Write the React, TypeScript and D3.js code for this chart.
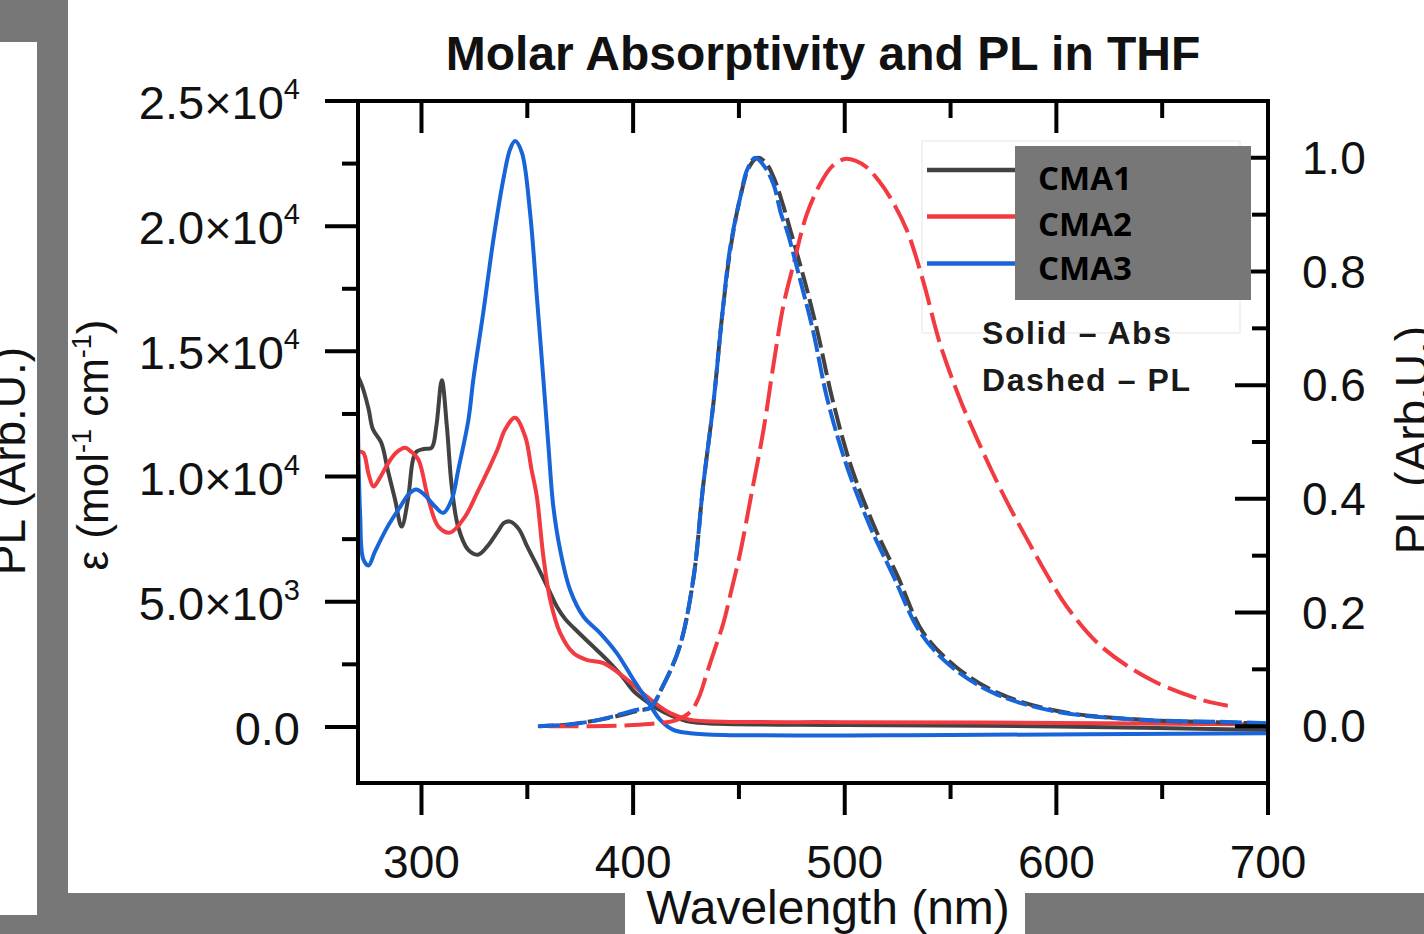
import React from 'react';
import * as d3 from 'd3';

// ---------- DATA ----------
// Absorption (molar absorptivity, left axis)
const cma1AbsWl = [270, 272, 275, 277, 281, 284, 287.5, 290.6, 293.6, 296, 297.7, 301, 304.8, 307, 309.6, 312, 314.3, 317.3, 322, 326.7, 331, 336, 339, 342, 346, 350, 356, 360, 364, 368, 372, 380, 388, 395, 400, 405, 411, 418, 427, 440, 500, 600, 700];
const cma1AbsEps = [14000, 13600, 12700, 11900, 11350, 10280, 9080, 8000, 9080, 10680, 11000, 11100, 11150, 12000, 13850, 12000, 9600, 8000, 7080, 6880, 7200, 7800, 8150, 8200, 7900, 7200, 6200, 5500, 4800, 4300, 3950, 3300, 2650, 2000, 1450, 1100, 750, 450, 200, 130, 80, 20, -120];

const cma2AbsWl = [270, 272.5, 275, 277.3, 280, 284, 288, 292.2, 295, 298.5, 303.3, 308, 313.5, 320.6, 326, 331.6, 336, 339.5, 344.2, 349, 352, 354.5, 357.6, 360.8, 365.5, 371.8, 378, 386, 395.4, 406.5, 417.5, 427, 442.6, 500, 600, 700];
const cma2AbsEps = [11000, 10950, 10100, 9600, 9900, 10500, 10950, 11150, 11000, 10680, 9080, 8000, 7760, 8400, 9300, 10280, 11100, 11880, 12350, 11600, 10280, 9200, 6800, 5080, 3760, 2950, 2680, 2550, 2010, 1210, 550, 280, 210, 190, 160, 100];

const cma3AbsWl = [270, 271, 272.5, 275, 278, 284, 290, 294, 297.5, 301, 306.4, 310.3, 314.3, 317.4, 322.2, 324.5, 329.2, 334, 338.7, 341.9, 344.2, 347.4, 351.3, 354.5, 357.6, 360, 362.3, 365.5, 370.2, 376.5, 384.4, 392.3, 400.2, 406.5, 412.8, 419, 427, 442.7, 550, 700];
const cma3AbsEps = [12000, 8500, 6700, 6450, 7000, 8000, 8800, 9300, 9480, 9300, 8800, 8550, 9080, 10280, 12280, 13880, 16550, 19480, 21880, 23080, 23400, 22950, 20550, 17200, 13880, 11200, 8800, 7080, 5480, 4410, 3750, 2950, 1880, 1080, 280, -120, -250, -320, -320, -250];

// Photoluminescence (normalised, right axis)
const cma1PlWl = [356, 370, 385, 395, 403, 408, 414, 422, 428.5, 433, 438, 442, 446, 450.6, 455, 459, 463, 467, 471, 474.5, 481, 487, 494, 503, 514, 525, 537, 552, 572, 600, 637, 685, 700];
const cma1PlVal = [0, 0.003, 0.012, 0.02, 0.028, 0.032, 0.07, 0.14, 0.26, 0.42, 0.57, 0.72, 0.84, 0.93, 0.985, 1.0, 0.99, 0.96, 0.915, 0.87, 0.784, 0.696, 0.578, 0.457, 0.351, 0.264, 0.165, 0.106, 0.059, 0.027, 0.012, 0.006, 0.004];

const cma2PlWl = [360, 380, 400, 411, 420, 427, 431, 435, 439, 442.7, 446.5, 450.6, 456, 461.6, 466.4, 471, 475.8, 482, 488.4, 494, 500, 505, 510.5, 516, 521.5, 529.4, 537, 545, 554.6, 562, 570, 578, 586, 595, 605, 621, 644.5, 668, 681];
const cma2PlVal = [0, 0, 0.002, 0.005, 0.01, 0.025, 0.05, 0.095, 0.14, 0.182, 0.24, 0.305, 0.41, 0.521, 0.638, 0.74, 0.813, 0.9, 0.954, 0.985, 0.998, 0.995, 0.983, 0.96, 0.93, 0.872, 0.784, 0.673, 0.574, 0.51, 0.445, 0.385, 0.33, 0.27, 0.21, 0.141, 0.082, 0.047, 0.036];

const cma3PlWl = [355, 370, 385, 395, 403, 408, 414, 422, 428.5, 433, 438, 442, 445.9, 450.6, 454, 457.7, 462, 466.3, 470, 472.7, 479, 485, 491.6, 501, 512, 523, 535.7, 550, 570, 598, 636, 684, 700];
const cma3PlVal = [0, 0.003, 0.012, 0.022, 0.03, 0.032, 0.07, 0.14, 0.26, 0.42, 0.57, 0.72, 0.843, 0.93, 0.98, 1.0, 0.985, 0.954, 0.9, 0.872, 0.784, 0.696, 0.578, 0.457, 0.351, 0.264, 0.165, 0.106, 0.059, 0.027, 0.012, 0.007, 0.005];

// Axis ticks
const xMajorTicks = [300, 400, 500, 600, 700];
const xMinorTicks = [350, 450, 550, 650];
const yLeftMajorTicks = [0, 5000, 10000, 15000, 20000, 25000];
const yLeftMinorTicks = [2500, 7500, 12500, 17500, 22500];
const yRightMajorTicks = [0, 0.2, 0.4, 0.6, 0.8, 1.0];
const yRightMinorTicks = [0.1, 0.3, 0.5, 0.7, 0.9];

const seriesNames = ['CMA1', 'CMA2', 'CMA3'];
const seriesColors = ['#424242', '#f23a41', '#1765d8'];

// ---------- LAYOUT ----------
const W = 1424;
const H = 934;
const plot = { left: 358, right: 1268, top: 101, bottom: 783 };

const AX = '"Liberation Sans", Arial, Helvetica, sans-serif';

function zip(xs: number[], ys: number[]) {
  return xs.map((x, i) => [x, ys[i]] as [number, number]);
}

function sciLabel(v: number) {
  if (v === 0) return { m: '0.0', e: null as null | number };
  const e = Math.floor(Math.log10(v));
  const m = (v / Math.pow(10, e)).toFixed(1);
  return { m, e };
}

export default function App() {
  const x = d3.scaleLinear().domain([270, 700]).range([plot.left, plot.right]);
  const yL = d3.scaleLinear().domain([-2240, 25000]).range([plot.bottom, plot.top]);
  const yR = d3.scaleLinear().domain([-0.1, 1.1]).range([plot.bottom, plot.top]);

  const curve = d3.curveCatmullRom.alpha(0.5);
  const absLine = d3.line<[number, number]>().x(d => x(d[0])).y(d => yL(d[1])).curve(curve);
  const plLine = d3.line<[number, number]>().x(d => x(d[0])).y(d => yR(d[1])).curve(curve);

  const absSeries = [
    zip(cma1AbsWl, cma1AbsEps),
    zip(cma2AbsWl, cma2AbsEps),
    zip(cma3AbsWl, cma3AbsEps),
  ];
  const plSeries = [
    zip(cma1PlWl, cma1PlVal),
    zip(cma2PlWl, cma2PlVal),
    zip(cma3PlWl, cma3PlVal),
  ];
  const plDash = ['22 6', '30 8', '22 5'];
  const plDashOffset = [8, 0, 0];

  const legendY = [170, 216.5, 263.5];
  const legendTextY = [190, 236, 280];

  return (
    <div style={{ position: 'absolute', left: 0, top: 0 }}>
      <svg width={W} height={H} style={{ display: 'block', background: '#ffffff' }}>
        <defs>
          <clipPath id="plotClip">
            <rect x={plot.left} y={plot.top} width={plot.right - plot.left} height={plot.bottom - plot.top} />
          </clipPath>
          <clipPath id="leftBoxClip">
            <rect x={0} y={42} width={37} height={873} />
          </clipPath>
        </defs>

        {/* background panels */}
        <rect x={0} y={0} width={68} height={H} fill="#777777" />
        <rect x={0} y={893} width={625} height={H - 893} fill="#777777" />
        <rect x={1025} y={893} width={W - 1025} height={H - 893} fill="#777777" />
        <rect x={0} y={42} width={37} height={873} fill="#ffffff" />
        <g clipPath="url(#leftBoxClip)">
          <text
            transform="translate(25,461) rotate(-90)"
            textAnchor="middle"
            fontFamily={AX}
            fontSize={46}
            fill="#111"
          >
            PL (Arb.U.)
          </text>
        </g>

        {/* title */}
        <text x={823} y={70} textAnchor="middle" fontFamily={AX} fontWeight="bold" fontSize={48} fill="#111">
          Molar Absorptivity and PL in THF
        </text>

        {/* faint legend frame */}
        <rect x={922} y={141} width={318} height={192} fill="none" stroke="#f2f2f2" strokeWidth={2} />

        {/* data */}
        <g clipPath="url(#plotClip)" fill="none">
          {absSeries.map((s, i) => (
            <path key={'abs' + i} d={absLine(s) || ''} stroke={seriesColors[i]} strokeWidth={4} strokeLinejoin="round" strokeLinecap="round" />
          ))}
          {plSeries.map((s, i) => (
            <path
              key={'pl' + i}
              d={plLine(s) || ''}
              stroke={seriesColors[i]}
              strokeWidth={4}
              strokeDasharray={plDash[i]}
              strokeDashoffset={plDashOffset[i]}
              strokeLinejoin="round"
            />
          ))}
        </g>

        {/* frame */}
        <rect x={plot.left} y={plot.top} width={plot.right - plot.left} height={plot.bottom - plot.top} fill="none" stroke="#000" strokeWidth={4} />

        {/* bottom axis ticks (outward) */}
        {xMajorTicks.map(t => (
          <line key={'xb' + t} x1={x(t)} x2={x(t)} y1={plot.bottom} y2={plot.bottom + 32} stroke="#000" strokeWidth={4} />
        ))}
        {xMinorTicks.map(t => (
          <line key={'xbm' + t} x1={x(t)} x2={x(t)} y1={plot.bottom} y2={plot.bottom + 16} stroke="#000" strokeWidth={4} />
        ))}
        {/* top axis ticks (inward) */}
        {xMajorTicks.map(t => (
          <line key={'xt' + t} x1={x(t)} x2={x(t)} y1={plot.top} y2={plot.top + 32} stroke="#000" strokeWidth={4} />
        ))}
        {xMinorTicks.map(t => (
          <line key={'xtm' + t} x1={x(t)} x2={x(t)} y1={plot.top} y2={plot.top + 17} stroke="#000" strokeWidth={4} />
        ))}
        {/* left axis ticks (outward) */}
        {yLeftMajorTicks.map(t => (
          <line key={'yl' + t} x1={plot.left - 33} x2={plot.left} y1={yL(t)} y2={yL(t)} stroke="#000" strokeWidth={4} />
        ))}
        {yLeftMinorTicks.map(t => (
          <line key={'ylm' + t} x1={plot.left - 16} x2={plot.left} y1={yL(t)} y2={yL(t)} stroke="#000" strokeWidth={4} />
        ))}
        {/* right axis ticks (inward) */}
        {yRightMajorTicks.map(t => (
          <line key={'yr' + t} x1={plot.right - 33} x2={plot.right} y1={yR(t)} y2={yR(t)} stroke="#000" strokeWidth={4} />
        ))}
        {yRightMinorTicks.map(t => (
          <line key={'yrm' + t} x1={plot.right - 16} x2={plot.right} y1={yR(t)} y2={yR(t)} stroke="#000" strokeWidth={4} />
        ))}

        {/* x tick labels */}
        {xMajorTicks.map(t => (
          <text key={'xl' + t} x={x(t)} y={878} textAnchor="middle" fontFamily={AX} fontSize={46} fill="#111">
            {t}
          </text>
        ))}
        <text x={828} y={924} textAnchor="middle" fontFamily={AX} fontSize={48} fill="#111">
          Wavelength (nm)
        </text>

        {/* left tick labels */}
        {yLeftMajorTicks.map(t => {
          const l = sciLabel(t);
          return (
            <text key={'yll' + t} x={300} y={yL(t) + 18} textAnchor="end" fontFamily={AX} fontSize={47} fill="#111">
              {l.e === null ? (
                l.m
              ) : (
                <>
                  <tspan>{l.m + '×10'}</tspan>
                  <tspan fontSize={29} dy={-20}>{String(l.e)}</tspan>
                </>
              )}
            </text>
          );
        })}
        <text transform="translate(108,445) rotate(-90)" textAnchor="middle" fontFamily={AX} fontSize={44} fill="#111">
          <tspan>ε (mol</tspan>
          <tspan fontSize={27} dy={-17}>-1</tspan>
          <tspan dy={17}> cm</tspan>
          <tspan fontSize={27} dy={-17}>-1</tspan>
          <tspan dy={17}>)</tspan>
        </text>

        {/* right tick labels */}
        {yRightMajorTicks.map(t => (
          <text key={'yrl' + t} x={1302} y={yR(t) + 16} textAnchor="start" fontFamily={AX} fontSize={46} fill="#111">
            {t.toFixed(1)}
          </text>
        ))}
        <text transform="translate(1428,440) rotate(-90)" textAnchor="middle" fontFamily={AX} fontSize={46} fill="#111">
          PL (Arb.U.)
        </text>

        {/* legend */}
        {seriesNames.map((n, i) => (
          <line key={'lg' + n} x1={927} x2={1030} y1={legendY[i]} y2={legendY[i]} stroke={seriesColors[i]} strokeWidth={4.5} />
        ))}
        <rect x={1015} y={146} width={236} height={154} fill="#777777" />
        {seriesNames.map((n, i) => (
          <text key={'lt' + n} x={1038} y={legendTextY[i]} fontFamily='"Open Sans", "Noto Sans", sans-serif' fontWeight="bold" fontSize={33} fill="#000">
            {n}
          </text>
        ))}
        <text x={982} y={344} fontFamily={AX} fontWeight="bold" fontSize={32} letterSpacing={1.6} fill="#1a1a1a">
          Solid – Abs
        </text>
        <text x={982} y={391} fontFamily={AX} fontWeight="bold" fontSize={32} letterSpacing={1.6} fill="#1a1a1a">
          Dashed – PL
        </text>
      </svg>
    </div>
  );
}
